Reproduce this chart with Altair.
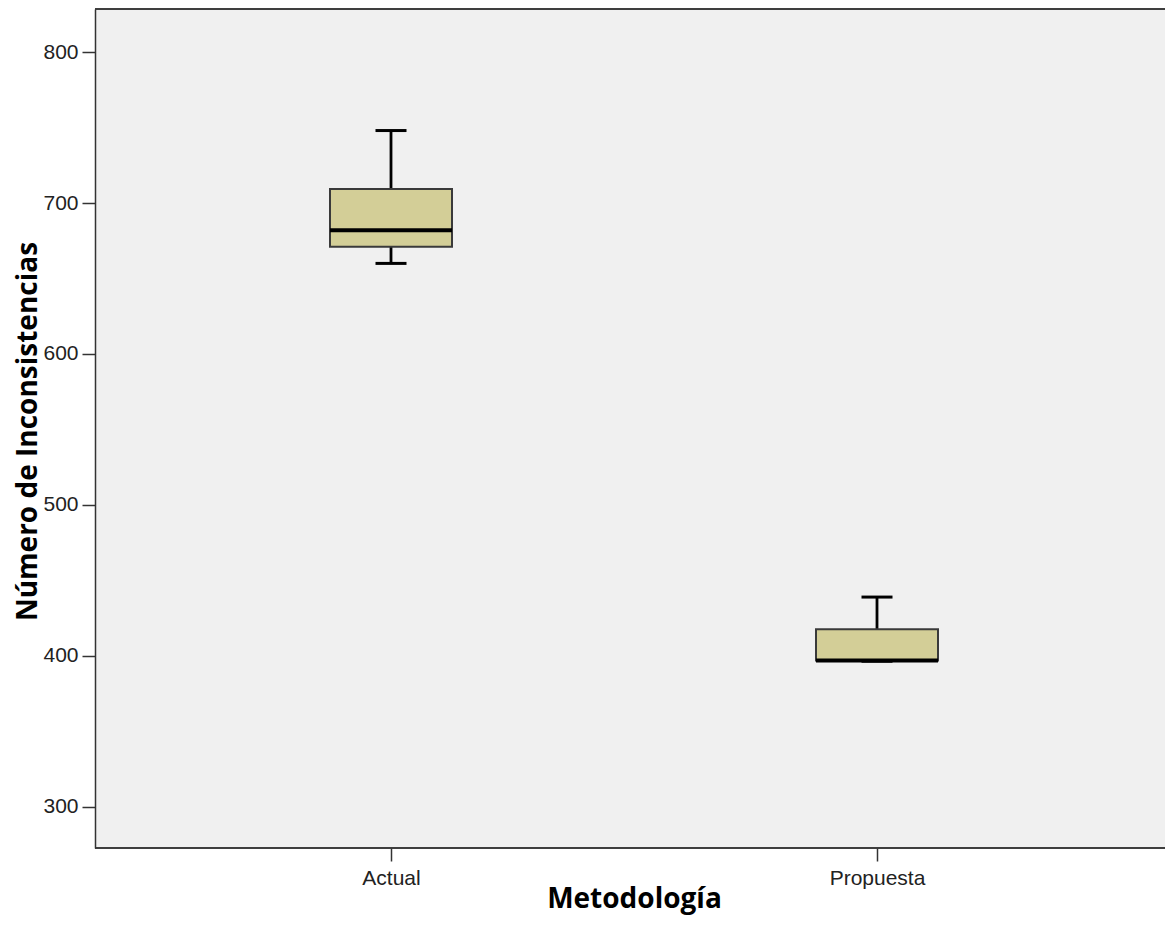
import altair as alt
import pandas as pd

categories = ["Actual", "Propuesta"]
whisker_low = [660.0, 396.5]
q1 = [671.0, 397.0]
median = [682.0, 397.0]
q3 = [709.3, 417.7]
whisker_high = [748.0, 439.0]
y_ticks = [300, 400, 500, 600, 700, 800]

df = pd.DataFrame({
    "Metodologia": categories,
    "lo": whisker_low,
    "q1": q1,
    "med": median,
    "q3": q3,
    "hi": whisker_high,
})

W, H = 1070, 839
ydom = [272.8, 828.5]

xenc = alt.X(
    "Metodologia:N",
    scale=alt.Scale(type="point", domain=categories, range=[296, 782], padding=0),
    axis=alt.Axis(
        title="Metodología",
        titleFont="Open Sans", titleFontSize=28, titleFontWeight="bold", titleColor="#000",
        titleBaseline="alphabetic", titleY=59, titleX=539, titleAlign="center",
        labelFont="Liberation Sans", labelFontSize=21, labelColor="#222",
        labelAngle=0, labelPadding=6,
        tickSize=13, tickColor="#333", tickWidth=1.5,
        domain=False,
    ),
)

yscale = alt.Scale(domain=ydom, nice=False, zero=False)
yaxis = alt.Axis(
    title="Número de Inconsistencias",
    values=y_ticks,
    titleFont="Open Sans", titleFontSize=28, titleFontWeight="bold", titleColor="#000",
    titleAngle=270, titleBaseline="alphabetic", titleX=-59, titleY=422, titleAlign="center",
    labelFont="Liberation Sans", labelFontSize=21, labelColor="#222", labelPadding=4,
    tickSize=13, tickColor="#333", tickWidth=1.5,
    domainColor="#333", domainWidth=1.5, grid=False,
)

base = alt.Chart(df)

whisk = base.mark_rule(color="#000", strokeWidth=2.8, opacity=1).encode(
    x=xenc,
    y=alt.Y("lo:Q", scale=yscale, axis=yaxis),
    y2="hi:Q",
)
box = base.mark_bar(size=122, color="#d3ce97", stroke="#3a3a3a", strokeWidth=2, opacity=1).encode(
    x=xenc,
    y=alt.Y("q1:Q", scale=yscale),
    y2="q3:Q",
)
med = base.mark_tick(size=122, thickness=4, color="#000", orient="horizontal", opacity=1).encode(
    x=xenc, y=alt.Y("med:Q", scale=yscale)
)
cap_hi = base.mark_tick(size=31, thickness=3, color="#000", orient="horizontal", opacity=1).encode(
    x=xenc, y=alt.Y("hi:Q", scale=yscale)
)
cap_lo = base.mark_tick(size=31, thickness=3, color="#000", orient="horizontal", opacity=1).encode(
    x=xenc, y=alt.Y("lo:Q", scale=yscale)
)
top_border = base.mark_rule(color="#333", strokeWidth=1.5).encode(
    x=alt.value(0), x2=alt.value(W), y=alt.value(0)
)
bottom_border = base.mark_rule(color="#333", strokeWidth=1.5).encode(
    x=alt.value(0), x2=alt.value(W), y=alt.value(H)
)

chart = alt.layer(whisk, box, med, cap_hi, cap_lo, top_border, bottom_border).properties(
    width=W, height=H,
    autosize=alt.AutoSizeParams(type="none"),
    padding={"left": 87, "top": 1, "right": 0, "bottom": 68},
    background="#ffffff",
).configure_view(
    fill="#f0f0f0", stroke=None, strokeWidth=0,
)

chart.save("out.html", embed_options={"renderer": "svg", "actions": False})
